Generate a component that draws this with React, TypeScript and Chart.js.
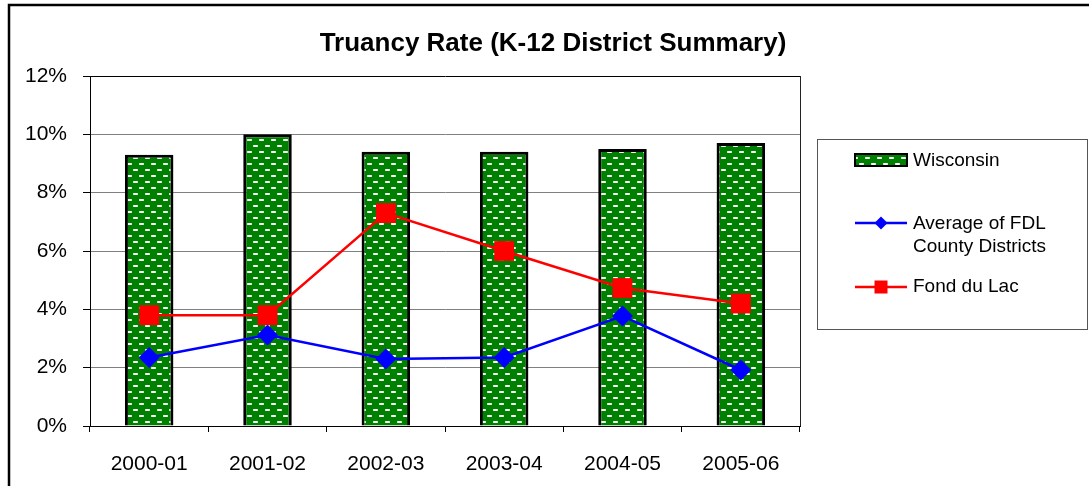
import React, { useEffect, useRef } from "react";
import { Chart, registerables } from "chart.js";

Chart.register(...registerables);

const categories = ["2000-01", "2001-02", "2002-03", "2003-04", "2004-05", "2005-06"];
const wisconsin = [9.3, 10.0, 9.4, 9.4, 9.5, 9.7];
const fdlAverage = [2.35, 3.12, 2.3, 2.35, 3.77, 1.92];
const fondDuLac = [3.8, 3.8, 7.3, 6.0, 4.73, 4.2];
const yTicks = [0, 2, 4, 6, 8, 10, 12];
const titleText = "Truancy Rate (K-12 District Summary)";
const legendLabels = ["Wisconsin", "Average of FDL|County Districts", "Fond du Lac"];

const FONT = "'Liberation Sans', Arial, sans-serif";

function makePattern(): CanvasPattern | string {
  const c = document.createElement("canvas");
  c.width = 12;
  c.height = 12;
  const g = c.getContext("2d");
  if (!g) return "#008000";
  g.fillStyle = "#008000";
  g.fillRect(0, 0, 12, 12);
  g.fillStyle = "#c8e8c8";
  g.fillRect(1, 1, 5, 2);
  g.fillRect(7, 7, 5, 2);
  g.fillStyle = "#ffffff";
  g.fillRect(2, 1, 3, 2);
  g.fillRect(8, 7, 3, 2);
  const p = g.createPattern(c, "repeat");
  return p || "#008000";
}

export default function App() {
  const ref = useRef<HTMLCanvasElement | null>(null);

  useEffect(() => {
    document.body.style.margin = "0";
    const canvas = ref.current;
    if (!canvas) return;
    const pattern = makePattern();

    const decor = {
      id: "decor",
      afterDraw(chart: any) {
        const ctx = chart.ctx as CanvasRenderingContext2D;
        const area = chart.chartArea;
        ctx.save();
        // outer border
        ctx.strokeStyle = "#000";
        ctx.lineWidth = 2.5;
        ctx.strokeRect(9, 5, 1200, 600);
        // plot right border
        ctx.lineWidth = 1;
        ctx.strokeStyle = "#222";
        ctx.beginPath();
        ctx.moveTo(Math.round(area.right) + 0.5, area.top);
        ctx.lineTo(Math.round(area.right) + 0.5, area.bottom);
        ctx.stroke();
        // title
        ctx.fillStyle = "#000";
        ctx.font = `bold 26px ${FONT}`;
        ctx.textAlign = "center";
        ctx.textBaseline = "middle";
        ctx.fillText(titleText, 553, 44);
        // legend box
        ctx.strokeStyle = "#555";
        ctx.lineWidth = 1;
        ctx.strokeRect(817.5, 139.5, 270, 190);
        const sx0 = 855, sx1 = 907, smid = 881;
        ctx.font = `19px ${FONT}`;
        ctx.textAlign = "left";
        // Wisconsin
        ctx.fillStyle = pattern as any;
        ctx.fillRect(sx0, 154, sx1 - sx0, 12);
        ctx.strokeStyle = "#000";
        ctx.lineWidth = 2;
        ctx.strokeRect(sx0, 154, sx1 - sx0, 12);
        ctx.fillStyle = "#000";
        ctx.fillText(legendLabels[0], 913, 161);
        // Average
        ctx.strokeStyle = "#0000ff";
        ctx.lineWidth = 2.5;
        ctx.beginPath();
        ctx.moveTo(sx0, 223);
        ctx.lineTo(sx1, 223);
        ctx.stroke();
        ctx.fillStyle = "#0000ff";
        ctx.beginPath();
        ctx.moveTo(smid, 216.5);
        ctx.lineTo(smid + 6.5, 223);
        ctx.lineTo(smid, 229.5);
        ctx.lineTo(smid - 6.5, 223);
        ctx.closePath();
        ctx.fill();
        ctx.fillStyle = "#000";
        const avg = legendLabels[1].split("|");
        ctx.fillText(avg[0], 913, 224);
        ctx.fillText(avg[1], 913, 247);
        // Fond du Lac
        ctx.strokeStyle = "#ff0000";
        ctx.beginPath();
        ctx.moveTo(sx0, 287);
        ctx.lineTo(sx1, 287);
        ctx.stroke();
        ctx.fillStyle = "#ff0000";
        ctx.fillRect(smid - 6.5, 280.5, 13, 13);
        ctx.fillStyle = "#000";
        ctx.fillText(legendLabels[2], 913, 287);
        ctx.restore();
      },
    };

    const chart = new Chart(canvas, {
      type: "bar",
      data: {
        labels: categories,
        datasets: [
          {
            type: "line",
            label: "Average of FDL County Districts",
            data: fdlAverage,
            borderColor: "#0000ff",
            backgroundColor: "#0000ff",
            borderWidth: 2.5,
            pointStyle: "rectRot",
            pointRadius: 10.5,
            pointBorderWidth: 0,
            order: 1,
          } as any,
          {
            type: "line",
            label: "Fond du Lac",
            data: fondDuLac,
            borderColor: "#ff0000",
            backgroundColor: "#ff0000",
            borderWidth: 2.5,
            pointStyle: "rect",
            pointRadius: 14,
            pointBorderWidth: 0,
            order: 0,
          } as any,
          {
            type: "bar",
            label: "Wisconsin",
            data: wisconsin,
            backgroundColor: pattern as any,
            borderColor: "#000",
            borderWidth: 3,
            barPercentage: 0.41,
            categoryPercentage: 1,
            order: 2,
          } as any,
        ],
      },
      options: {
        responsive: false,
        animation: false,
        layout: { padding: { left: 0, top: 76, right: 289, bottom: 0 } },
        plugins: { legend: { display: false }, title: { display: false }, tooltip: { enabled: false } },
        scales: {
          x: {
            offset: true,
            grid: {
              offset: true,
              drawOnChartArea: false,
              drawTicks: true,
              tickLength: 6,
              color: "#000",
            },
            border: { color: "#000", width: 1 },
            ticks: { color: "#000", font: { family: FONT, size: 21 }, padding: 20 },
            afterFit: (s: any) => {
              s.height = 60;
            },
          },
          y: {
            min: 0,
            max: 12,
            afterBuildTicks: (s: any) => {
              s.ticks = yTicks.map((v) => ({ value: v }));
            },
            grid: {
              color: (c: any) => (c.tick && c.tick.value === 12 ? "#000" : "#808080"),
              tickLength: 7,
              tickColor: "#000",
            },
            border: { color: "#000", width: 1 },
            ticks: {
              color: "#000",
              font: { family: FONT, size: 21 },
              padding: 16,
              callback: (v: any) => `${v}%`,
            },
            afterFit: (s: any) => {
              s.width = 90;
            },
          },
        },
      },
      plugins: [decor],
    });
    return () => chart.destroy();
  }, []);

  return (
    <div style={{ width: 1089, height: 486, background: "#fff" }}>
      <canvas ref={ref} width={1089} height={486} style={{ display: "block" }} />
    </div>
  );
}
